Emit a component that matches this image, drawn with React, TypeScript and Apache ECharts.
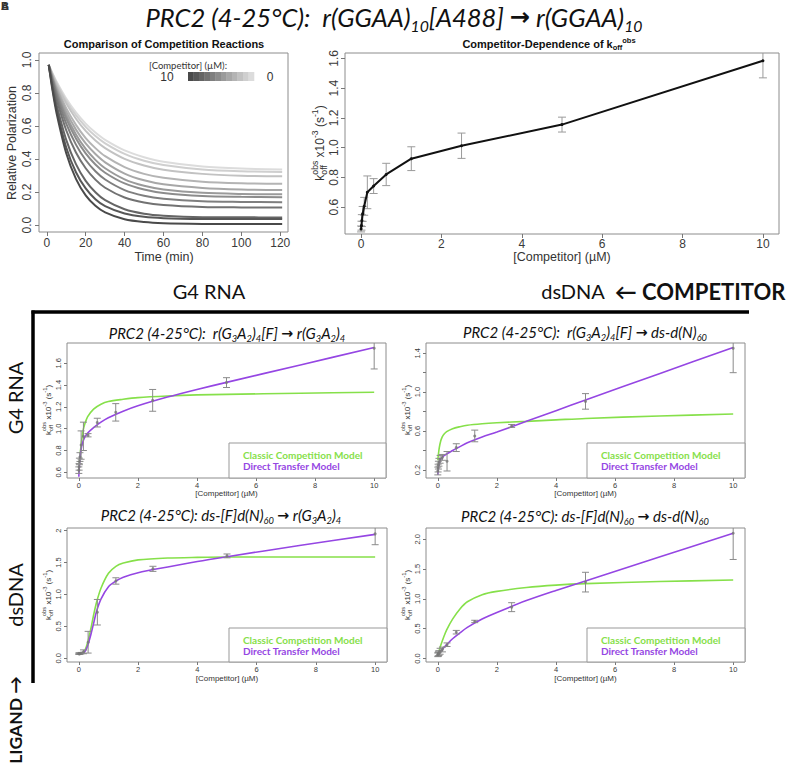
import React, { useEffect, useRef } from "react";
import * as echarts from "echarts";

// ---------- Panel A-left: polarization decay curves ----------
const timeMin = [1, 3, 5, 10, 15, 20, 25, 30, 40, 50, 60, 80, 100, 121];
const pol10uM = [0.97, 0.811, 0.679, 0.435, 0.28, 0.18, 0.117, 0.077, 0.035, 0.018, 0.011, 0.007, 0.006, 0.006];
const pol5uM = [0.97, 0.824, 0.701, 0.47, 0.32, 0.222, 0.157, 0.115, 0.07, 0.05, 0.042, 0.037, 0.036, 0.036];
const pol2_5uM = [0.97, 0.842, 0.731, 0.516, 0.369, 0.268, 0.199, 0.151, 0.096, 0.069, 0.057, 0.048, 0.047, 0.046];
const pol1_25uM = [0.97, 0.86, 0.764, 0.574, 0.439, 0.344, 0.275, 0.226, 0.167, 0.137, 0.122, 0.11, 0.107, 0.106];
const pol0_625uM = [0.97, 0.873, 0.787, 0.614, 0.487, 0.394, 0.326, 0.276, 0.212, 0.178, 0.16, 0.144, 0.14, 0.138];
const pol0_31uM = [0.97, 0.882, 0.804, 0.644, 0.524, 0.434, 0.367, 0.317, 0.252, 0.215, 0.194, 0.176, 0.171, 0.169];
const pol0_16uM = [0.97, 0.888, 0.815, 0.664, 0.549, 0.461, 0.395, 0.344, 0.277, 0.238, 0.216, 0.195, 0.188, 0.186];
const pol0_078uM = [0.97, 0.895, 0.828, 0.687, 0.578, 0.494, 0.43, 0.38, 0.312, 0.271, 0.247, 0.225, 0.216, 0.213];
const pol0_039uM = [0.97, 0.901, 0.839, 0.708, 0.607, 0.527, 0.466, 0.417, 0.351, 0.31, 0.286, 0.262, 0.253, 0.25];
const pol0_020uM = [0.97, 0.909, 0.854, 0.737, 0.644, 0.57, 0.512, 0.466, 0.401, 0.361, 0.335, 0.31, 0.299, 0.295];
const pol0_010uM = [0.97, 0.914, 0.863, 0.753, 0.665, 0.595, 0.539, 0.495, 0.431, 0.39, 0.364, 0.337, 0.326, 0.321];
const pol0uM = [0.97, 0.918, 0.869, 0.766, 0.682, 0.614, 0.56, 0.516, 0.452, 0.411, 0.383, 0.354, 0.342, 0.337];
const decayCurves = [pol10uM, pol5uM, pol2_5uM, pol1_25uM, pol0_625uM, pol0_31uM, pol0_16uM, pol0_078uM, pol0_039uM, pol0_020uM, pol0_010uM, pol0uM];
const timeTicks = [0, 20, 40, 60, 80, 100, 120];
const polTicks = [0, 0.2, 0.4, 0.6, 0.8, 1.0];

// ---------- competitor concentrations ----------
const competitorConc = [0, 0.0098, 0.0195, 0.039, 0.078, 0.156, 0.3125, 0.625, 1.25, 2.5, 5, 10];
const concTicks = [0, 2, 4, 6, 8, 10];

// Panel A-right
const koffGGAA = [0.454, 0.476, 0.51, 0.555, 0.606, 0.7, 0.742, 0.82, 0.926, 1.013, 1.155, 1.584];
const koffGGAAErr = [0.02, 0.03, 0.04, 0.05, 0.06, 0.11, 0.05, 0.075, 0.08, 0.085, 0.05, 0.115];
const koffGGAATicks = [0.6, 0.8, 1.0, 1.2, 1.4, 1.6];

// Panel G4 -> G4
const koffG4toG4 = [0.62, 0.65, 0.7, 0.74, 0.85, 0.93, 0.94, 1.056, 1.15, 1.26, 1.423, 1.738];
const errG4toG4 = [0.03, 0.03, 0.03, 0.04, 0.13, 0.13, 0.015, 0.04, 0.08, 0.1, 0.045, 0.19];
const fitXG4 = [0, 0.02, 0.05, 0.1, 0.15, 0.2, 0.3, 0.5, 0.75, 1, 1.5, 2, 3, 4, 5, 7.5, 10];
const classicG4toG4 = [0.6, 0.68, 0.78, 0.9, 0.99, 1.04, 1.11, 1.18, 1.225, 1.25, 1.27, 1.285, 1.3, 1.31, 1.315, 1.325, 1.335];
const directG4toG4 = [0.56, 0.66, 0.76, 0.845, 0.89, 0.92, 0.96, 1.01, 1.06, 1.1, 1.16, 1.21, 1.29, 1.36, 1.425, 1.585, 1.745];
const ticksG4toG4 = [0.6, 0.8, 1.0, 1.2, 1.4, 1.6];

// Panel G4 -> dsDNA
const koffG4toDs = [0.19, 0.22, 0.25, 0.28, 0.31, 0.33, 0.29, 0.43, 0.55, 0.653, 0.905, 1.45];
const errG4toDs = [0.04, 0.04, 0.04, 0.04, 0.04, 0.03, 0.1, 0.04, 0.06, 0.015, 0.08, 0.25];
const classicG4toDs = [0.3, 0.36, 0.43, 0.5, 0.54, 0.565, 0.595, 0.625, 0.645, 0.66, 0.675, 0.685, 0.7, 0.715, 0.73, 0.755, 0.776];
const directG4toDs = [0.15, 0.22, 0.27, 0.31, 0.33, 0.345, 0.365, 0.4, 0.44, 0.48, 0.54, 0.59, 0.7, 0.81, 0.92, 1.19, 1.46];
const ticksG4toDs = [0.2, 0.4, 0.6, 0.8, 1.0, 1.2, 1.4];
const labelsG4toDs = [0.2, 0.6, 1.0, 1.4];

// Panel dsDNA -> G4
const koffDsToG4 = [0.07, 0.07, 0.07, 0.07, 0.08, 0.1, 0.25, 0.72, 1.21, 1.4, 1.603, 1.948];
const errDsToG4 = [0.01, 0.01, 0.01, 0.01, 0.01, 0.03, 0.17, 0.2, 0.05, 0.04, 0.03, 0.17];
const fitXDsG4 = [0, 0.1, 0.2, 0.3, 0.4, 0.5, 0.6, 0.75, 1, 1.25, 1.5, 2, 3, 4, 5, 7.5, 10];
const classicDsToG4 = [0.07, 0.08, 0.12, 0.25, 0.45, 0.68, 0.88, 1.1, 1.33, 1.44, 1.49, 1.54, 1.57, 1.58, 1.585, 1.585, 1.585];
const directDsToG4 = [0.07, 0.075, 0.1, 0.2, 0.36, 0.55, 0.74, 0.93, 1.12, 1.21, 1.27, 1.34, 1.43, 1.515, 1.59, 1.77, 1.94];
const ticksDsToG4 = [0, 0.5, 1.0, 1.5, 2.0];

// Panel dsDNA -> dsDNA
const koffDsToDs = [0.06, 0.07, 0.08, 0.09, 0.12, 0.15, 0.23, 0.44, 0.62, 0.86, 1.28, 2.1];
const errDsToDs = [0.03, 0.03, 0.04, 0.04, 0.05, 0.04, 0.03, 0.03, 0.02, 0.075, 0.165, 0.44];
const fitXDsDs = [0, 0.05, 0.1, 0.2, 0.3, 0.5, 0.75, 1, 1.5, 2, 3, 4, 5, 7.5, 10];
const classicDsToDs = [0.06, 0.14, 0.22, 0.36, 0.48, 0.66, 0.83, 0.95, 1.07, 1.125, 1.19, 1.23, 1.255, 1.29, 1.315];
const directDsToDs = [0.06, 0.09, 0.12, 0.18, 0.23, 0.33, 0.43, 0.52, 0.66, 0.77, 0.97, 1.14, 1.3, 1.7, 2.1];
const ticksDsToDs = [0, 0.5, 1.0, 1.5, 2.0];

// ---------- styles ----------
const RFONT = '"Liberation Sans", Arial, sans-serif';
const CFONT = 'Lato, "Open Sans", sans-serif';
const GREEN = "#86E04A";
const PURPLE = "#9546E3";
const curveGreys = ["#4a4a4a", "#575757", "#656565", "#727272", "#7f7f7f", "#8c8c8c", "#9a9a9a", "#a7a7a7", "#b4b4b4", "#c2c2c2", "#cfcfcf", "#dcdcdc"];

let measureCtx: CanvasRenderingContext2D | null = null;
function measure(t: string, fs: number) {
  if (!measureCtx) measureCtx = document.createElement("canvas").getContext("2d");
  measureCtx!.font = `${fs}px "Liberation Sans"`;
  return measureCtx!.measureText(t).width;
}

function txt(x: number, y: number, text: string, style: any, extra: any = {}) {
  return {
    type: "text",
    x,
    y,
    z: 100,
    style: { text, fill: "#222", align: "center", verticalAlign: "middle", ...style },
    ...extra,
  };
}

function koffLabel(cx: number, cy: number, fs: number) {
  const sf = fs * 0.72;
  const segs: any[] = [];
  let x = 0;
  const add = (t: string, size: number, dy: number) => {
    segs.push({ t, size, x, dy });
    x += measure(t, size);
  };
  add("k", fs, 0);
  segs.push({ t: "off", size: sf, x, dy: 0.32 * fs });
  segs.push({ t: "obs", size: sf, x, dy: -0.45 * fs });
  x += Math.max(measure("off", sf), measure("obs", sf));
  add(" x10", fs, 0);
  add("-3", sf, -0.42 * fs);
  add(" (s", fs, 0);
  add("-1", sf, -0.42 * fs);
  add(")", fs, 0);
  const total = x;
  return {
    type: "group",
    x: cx,
    y: cy,
    rotation: Math.PI / 2,
    z: 100,
    children: segs.map((s) => ({
      type: "text",
      z: 100,
      x: s.x - total / 2,
      y: s.dy,
      style: { text: s.t, fontSize: s.size, fontFamily: RFONT, fill: "#333", align: "left", verticalAlign: "middle" },
    })),
  };
}

function xAxisCfg(gi: number, min: number, max: number, ticks: number[], fs: number, margin: number, tickLen: number) {
  return {
    type: "value",
    gridIndex: gi,
    min,
    max,
    axisLine: { show: false, onZero: false },
    splitLine: { show: false },
    axisTick: { show: true, inside: false, length: tickLen, customValues: ticks, lineStyle: { color: "#777", width: 1 } },
    axisLabel: { customValues: ticks, fontSize: fs, margin, color: "#3a3a3a", fontFamily: RFONT, formatter: (v: number) => String(v) },
  };
}

function yAxisCfg(gi: number, min: number, max: number, ticks: number[], labels: number[], fs: number, margin: number, tickLen: number, fmt?: (v: number) => string) {
  return {
    type: "value",
    gridIndex: gi,
    min,
    max,
    axisLine: { show: false, onZero: false },
    splitLine: { show: false },
    axisTick: { show: true, inside: false, length: tickLen, customValues: ticks, lineStyle: { color: "#777", width: 1 } },
    axisLabel: {
      customValues: labels,
      rotate: 90,
      fontSize: fs,
      margin,
      color: "#3a3a3a",
      fontFamily: RFONT,
      formatter: fmt || ((v: number) => v.toFixed(1)),
    },
  };
}

function errorSeries(gi: number, xs: number[], ys: number[], errs: number[], cap: number, color: string) {
  return {
    type: "custom",
    xAxisIndex: gi,
    yAxisIndex: gi,
    clip: true,
    z: 4,
    encode: { x: 0, y: [1, 2] },
    data: xs.map((x, i) => [x, ys[i] - errs[i], ys[i] + errs[i]]),
    renderItem: (params: any, api: any) => {
      const p1 = api.coord([api.value(0), api.value(1)]);
      const p2 = api.coord([api.value(0), api.value(2)]);
      const st = { stroke: color, lineWidth: 1 };
      return {
        type: "group",
        children: [
          { type: "line", shape: { x1: p1[0], y1: p1[1], x2: p2[0], y2: p2[1] }, style: st },
          { type: "line", shape: { x1: p1[0] - cap, y1: p1[1], x2: p1[0] + cap, y2: p1[1] }, style: st },
          { type: "line", shape: { x1: p2[0] - cap, y1: p2[1], x2: p2[0] + cap, y2: p2[1] }, style: st },
        ],
      };
    },
  };
}

function fitLine(gi: number, xs: number[], ys: number[], color: string) {
  return {
    type: "line",
    xAxisIndex: gi,
    yAxisIndex: gi,
    data: xs.map((x, i) => [x, ys[i]]),
    smooth: 0.3,
    showSymbol: false,
    symbol: "none",
    z: 3,
    lineStyle: { color, width: 1.6 },
  };
}

function pointSeries(gi: number, xs: number[], ys: number[]) {
  return {
    type: "scatter",
    xAxisIndex: gi,
    yAxisIndex: gi,
    data: xs.map((x, i) => [x, ys[i]]),
    symbolSize: 3,
    z: 5,
    itemStyle: { color: "#777" },
  };
}

function panelTitleRich(fs: number) {
  return {
    m: { fontSize: fs, fontStyle: "italic", fontFamily: CFONT, fill: "#111", lineHeight: fs * 1.3 },
    s: { fontSize: fs * 0.62, fontStyle: "italic", fontFamily: CFONT, fill: "#111", lineHeight: fs * 0.6, verticalAlign: "bottom" },
    a: { fontSize: fs * 0.95, fontWeight: "bold", fontFamily: '"DejaVu Sans"', fill: "#111", lineHeight: fs * 1.3 },
  };
}

function buildOption() {
  const grids = [
    { left: 39, top: 53, width: 249, height: 179 },
    { left: 345, top: 53, width: 434, height: 181 },
    { left: 67, top: 343, width: 319, height: 135 },
    { left: 426, top: 343, width: 319, height: 135 },
    { left: 67, top: 528, width: 320, height: 134 },
    { left: 426, top: 528, width: 319, height: 134 },
  ].map((g) => ({ ...g, show: true, borderColor: "#8c8c8c", borderWidth: 1, backgroundColor: "transparent" }));

  const xAxes = [
    xAxisCfg(0, -4, 124, timeTicks, 12, 5, 4),
    xAxisCfg(1, -0.4, 10.4, concTicks, 12, 4, 4),
    xAxisCfg(2, -0.4, 10.4, concTicks, 7.5, 3, 3),
    xAxisCfg(3, -0.4, 10.4, concTicks, 7.5, 3, 3),
    xAxisCfg(4, -0.4, 10.4, concTicks, 7.5, 3, 3),
    xAxisCfg(5, -0.4, 10.4, concTicks, 7.5, 3, 3),
  ];
  const yAxes = [
    yAxisCfg(0, -0.042, 1.042, polTicks, polTicks, 12, 6, 4),
    yAxisCfg(1, 0.42, 1.636, koffGGAATicks, koffGGAATicks, 12, 5, 4),
    yAxisCfg(2, 0.548, 1.786, ticksG4toG4, ticksG4toG4, 7.5, 5, 3),
    yAxisCfg(3, 0.118, 1.505, ticksG4toDs, labelsG4toDs, 7.5, 5, 3),
    yAxisCfg(4, -0.06, 2.04, ticksDsToG4, ticksDsToG4, 7.5, 5, 3, (v: number) => (v === 2 ? "2" : v.toFixed(1))),
    yAxisCfg(5, -0.06, 2.188, ticksDsToDs, ticksDsToDs, 7.5, 5, 3),
  ];

  const series: any[] = [];
  decayCurves.forEach((curve, k) => {
    series.push({
      type: "line",
      xAxisIndex: 0,
      yAxisIndex: 0,
      data: timeMin.map((t, i) => [t, curve[i]]),
      smooth: 0.3,
      showSymbol: false,
      symbol: "none",
      z: 3 + (decayCurves.length - k) * 0.01,
      lineStyle: { color: curveGreys[k], width: 2 },
    });
  });

  series.push(errorSeries(1, competitorConc, koffGGAA, koffGGAAErr, 4, "#9a9a9a"));
  series.push({
    type: "line",
    xAxisIndex: 1,
    yAxisIndex: 1,
    data: competitorConc.map((x, i) => [x, koffGGAA[i]]),
    showSymbol: true,
    symbol: "circle",
    symbolSize: 3,
    z: 6,
    itemStyle: { color: "#111" },
    lineStyle: { color: "#111", width: 2 },
  });

  const panels = [
    { gi: 2, y: koffG4toG4, e: errG4toG4, fx: fitXG4, c: classicG4toG4, d: directG4toG4 },
    { gi: 3, y: koffG4toDs, e: errG4toDs, fx: fitXG4, c: classicG4toDs, d: directG4toDs },
    { gi: 4, y: koffDsToG4, e: errDsToG4, fx: fitXDsG4, c: classicDsToG4, d: directDsToG4 },
    { gi: 5, y: koffDsToDs, e: errDsToDs, fx: fitXDsDs, c: classicDsToDs, d: directDsToDs },
  ];
  panels.forEach((p) => {
    series.push(fitLine(p.gi, p.fx, p.c, GREEN));
    series.push(fitLine(p.gi, p.fx, p.d, PURPLE));
    series.push(pointSeries(p.gi, competitorConc, p.y));
    series.push(errorSeries(p.gi, competitorConc, p.y, p.e, 3.5, "#8a8a8a"));
  });

  const g: any[] = [];
  // corner letters
  g.push(txt(1, 0, "A", { fontSize: 11, fontWeight: "bold", fontFamily: RFONT, align: "left", verticalAlign: "top", fill: "#333" }));
  g.push(txt(1, 0, "B", { fontSize: 11, fontWeight: "bold", fontFamily: RFONT, align: "left", verticalAlign: "top", fill: "#333" }));

  // main title
  g.push(
    txt(394, 17, "{m|PRC2 (4-25°C):  r(GGAA)}{s|10}{m|[A488] }{a|→}{m| r(GGAA)}{s|10}", {
      rich: panelTitleRich(25.5),
    })
  );

  // top-left panel texts
  g.push(txt(164, 44, "Comparison of Competition Reactions", { fontSize: 11, fontWeight: "bold", fontFamily: RFONT, fill: "#111" }));
  g.push(txt(12, 143, "Relative Polarization", { fontSize: 12.5, fontFamily: RFONT, fill: "#333" }, { rotation: Math.PI / 2 }));
  g.push(txt(164, 257, "Time (min)", { fontSize: 12.5, fontFamily: RFONT, fill: "#333" }));
  g.push(txt(188, 65, "[Competitor] (µM):", { fontSize: 9.5, fontFamily: CFONT, fill: "#333" }));
  g.push(txt(167, 77, "10", { fontSize: 12, fontFamily: RFONT, fill: "#333" }));
  g.push(txt(270, 77, "0", { fontSize: 12, fontFamily: RFONT, fill: "#333" }));
  const gx0 = 188;
  const gw = 66 / curveGreys.length;
  curveGreys.forEach((c, i) => {
    g.push({ type: "rect", z: 100, shape: { x: gx0 + i * gw, y: 72, width: gw + 0.3, height: 9 }, style: { fill: c, stroke: null } });
  });

  // top-right panel texts
  g.push(
    txt(549, 44, "{b|Competitor-Dependence of k}{sub|off}{sup|obs}", {
      rich: {
        b: { fontSize: 11, fontWeight: "bold", fontFamily: RFONT, fill: "#111", lineHeight: 15 },
        sub: { fontSize: 7.5, fontWeight: "bold", fontFamily: RFONT, fill: "#111", lineHeight: 8, verticalAlign: "bottom" },
        sup: { fontSize: 7.5, fontWeight: "bold", fontFamily: RFONT, fill: "#111", lineHeight: 8, verticalAlign: "top" },
      },
    })
  );
  g.push(koffLabel(320, 143, 12));
  g.push(txt(562, 257, "[Competitor] (µM)", { fontSize: 12.5, fontFamily: RFONT, fill: "#333" }));

  // section labels
  g.push(txt(209, 291, "G4 RNA", { fontSize: 20, fontFamily: CFONT, fill: "#111" }));
  g.push(txt(573, 291, "dsDNA", { fontSize: 20, fontFamily: CFONT, fill: "#111" }));
  g.push(txt(700, 291, "← COMPETITOR", { fontSize: 22, fontWeight: "bold", fontFamily: CFONT, fill: "#111" }));
  g.push(txt(15, 398, "G4 RNA", { fontSize: 20, fontFamily: CFONT, fill: "#111" }, { rotation: Math.PI / 2 }));
  g.push(txt(15, 595, "dsDNA", { fontSize: 20, fontFamily: CFONT, fill: "#111" }, { rotation: Math.PI / 2 }));
  g.push(txt(15, 720, "LIGAND →", { fontSize: 17.5, fontWeight: "bold", fontFamily: CFONT, fill: "#111" }, { rotation: Math.PI / 2 }));
  g.push({ type: "line", z: 100, shape: { x1: 31.5, y1: 312, x2: 749, y2: 312 }, style: { stroke: "#000", lineWidth: 3.5 } });
  g.push({ type: "line", z: 100, shape: { x1: 33, y1: 310.5, x2: 33, y2: 683 }, style: { stroke: "#000", lineWidth: 3.5 } });

  // bottom panel titles
  const g4 = "r(G}{s|3}{m|A}{s|2}{m|)}{s|4}";
  const tfs = 15;
  g.push(txt(227, 333, "{m|PRC2 (4-25°C):  r(G}{s|3}{m|A}{s|2}{m|)}{s|4}{m|[F] }{a|→}{m| " + g4, { rich: panelTitleRich(tfs) }));
  g.push(txt(585, 332, "{m|PRC2 (4-25°C):  r(G}{s|3}{m|A}{s|2}{m|)}{s|4}{m|[F] }{a|→}{m| ds-d(N)}{s|60}", { rich: panelTitleRich(tfs) }));
  g.push(txt(221, 515, "{m|PRC2 (4-25°C): ds-[F]d(N)}{s|60}{m| }{a|→}{m| " + g4, { rich: panelTitleRich(tfs) }));
  g.push(txt(585, 516, "{m|PRC2 (4-25°C): ds-[F]d(N)}{s|60}{m| }{a|→}{m| ds-d(N)}{s|60}", { rich: panelTitleRich(tfs) }));

  // bottom panel axis names
  g.push(koffLabel(48, 410, 8));
  g.push(koffLabel(407, 410, 8));
  g.push(koffLabel(48, 595, 8));
  g.push(koffLabel(407, 595, 8));
  g.push(txt(226.5, 493, "[Competitor] (µM)", { fontSize: 8, fontFamily: RFONT, fill: "#333" }));
  g.push(txt(585.5, 493, "[Competitor] (µM)", { fontSize: 8, fontFamily: RFONT, fill: "#333" }));
  g.push(txt(227, 678, "[Competitor] (µM)", { fontSize: 8, fontFamily: RFONT, fill: "#333" }));
  g.push(txt(585.5, 678, "[Competitor] (µM)", { fontSize: 8, fontFamily: RFONT, fill: "#333" }));

  // legends
  const legends = [
    { x: 229, y: 443, w: 157, h: 35 },
    { x: 587, y: 443, w: 158, h: 35 },
    { x: 229, y: 628, w: 158, h: 34 },
    { x: 587, y: 628, w: 158, h: 34 },
  ];
  legends.forEach((l) => {
    g.push({ type: "rect", z: 90, shape: { x: l.x, y: l.y, width: l.w, height: l.h }, style: { fill: "#fff", stroke: "#999", lineWidth: 1 } });
    g.push(txt(l.x + 14, l.y + 12, "Classic Competition Model", { fontSize: 10, fontWeight: "bold", fontFamily: CFONT, fill: GREEN, align: "left" }));
    g.push(txt(l.x + 14, l.y + 23, "Direct Transfer Model", { fontSize: 10, fontWeight: "bold", fontFamily: CFONT, fill: PURPLE, align: "left" }));
  });

  return {
    animation: false,
    backgroundColor: "#fff",
    grid: grids,
    xAxis: xAxes,
    yAxis: yAxes,
    series,
    graphic: { elements: g },
  };
}

export default function App() {
  const ref = useRef<HTMLDivElement>(null);
  useEffect(() => {
    document.body.style.margin = "0";
    const chart = echarts.init(ref.current!, null, { renderer: "svg" });
    chart.setOption(buildOption() as any);
    return () => chart.dispose();
  }, []);
  return <div ref={ref} style={{ width: 789, height: 765 }} />;
}
